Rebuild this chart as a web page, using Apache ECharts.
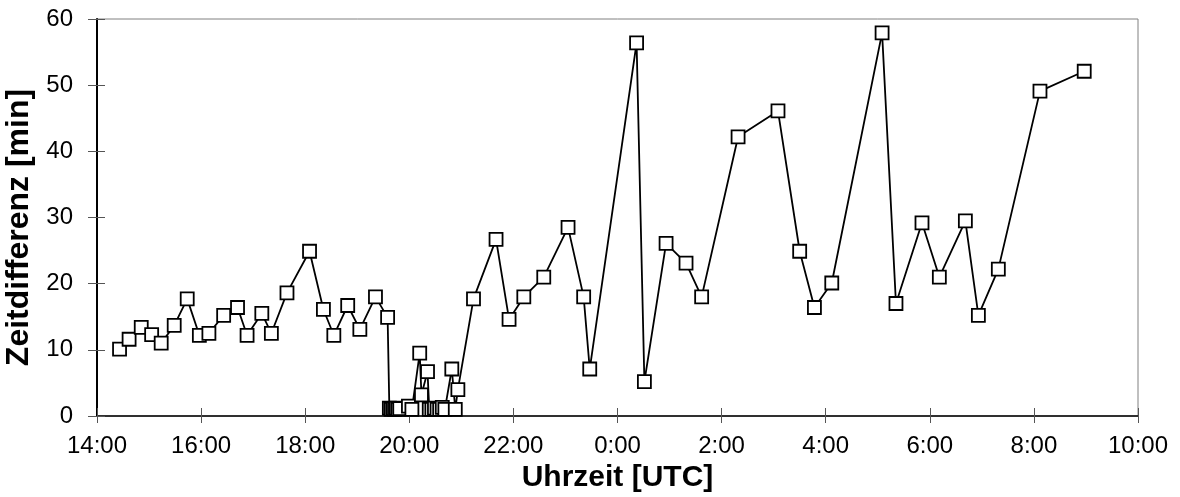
<!DOCTYPE html>
<html>
<head>
<meta charset="utf-8">
<script src="https://cdn.jsdelivr.net/npm/echarts@6/dist/echarts.min.js"></script>
<style>
html,body{margin:0;padding:0;background:#fff;}
#chart{width:1180px;height:497px;}
</style>
</head>
<body>
<div id="chart"></div>
<script>
// Observation times (UTC), night continues past midnight
const times = ["14:26","14:37","14:51","15:03","15:14","15:29","15:44","15:58","16:09","16:26",
  "16:42","16:53","17:10","17:21","17:39","18:05","18:21","18:33","18:49","19:03",
  "19:21","19:35","19:37","19:39","19:41","19:43","19:45","19:47","19:49","19:59",
  "20:03","20:12","20:14","20:21","20:23","20:26","20:29","20:32","20:35","20:38",
  "20:41","20:49","20:53","20:56","21:14","21:40","21:55","22:12","22:35","23:03",
  "23:21","23:28","0:22","0:31","0:56","1:19","1:37","2:19","3:05","3:30",
  "3:47","4:07","5:05","5:21","5:51","6:11","6:41","6:56","7:19","8:07","8:58"];
// Time difference in minutes
const diffs = [10.1,11.6,13.4,12.3,11.0,13.7,17.7,12.2,12.5,15.2,
  16.4,12.2,15.5,12.5,18.6,24.9,16.1,12.2,16.7,13.1,
  18.0,14.9,1.2,1.0,1.1,1.0,1.2,1.0,1.1,1.5,
  1.0,9.5,3.2,6.7,1.0,1.0,1.2,1.0,1.0,1.3,
  1.0,7.1,1.0,4.0,17.7,26.7,14.6,18.0,21.0,28.5,
  18.0,7.1,56.4,5.2,26.1,23.1,18.0,42.2,46.1,24.9,
  16.4,20.1,57.9,17.0,29.2,21.0,29.5,15.2,22.2,49.1,52.1];
const xTickHours = [14,16,18,20,22,24,26,28,30,32,34];
const yTicks = [0,10,20,30,40,50,60];

function toHours(t){
  const [h,m] = t.split(':').map(Number);
  let v = h + m/60;
  if (v < 12) v += 24;
  return v;
}
const data = times.map((t,i)=>[toHours(t), diffs[i]]);
const fmtX = v => (Math.round(v) % 24) + ':00';
const FONT = '"Liberation Sans", Arial, sans-serif';

const chart = echarts.init(document.getElementById('chart'), null, {renderer:'canvas'});
chart.setOption({
  animation:false,
  backgroundColor:'#fff',
  grid:{left:97,right:42,top:19,bottom:81,containLabel:false,outerBoundsMode:'none',
    show:true,borderColor:'#808080',borderWidth:1,backgroundColor:'transparent'},
  xAxis:[{
    type:'value',min:xTickHours[0],max:xTickHours[xTickHours.length-1],interval:2,
    axisLine:{show:true,onZero:false,lineStyle:{color:'#000',width:1.5}},
    axisTick:{show:true,inside:false,length:7,lineStyle:{color:'#555',width:1}},
    axisLabel:{formatter:fmtX,fontFamily:FONT,fontSize:24,color:'#000',margin:18},
    splitLine:{show:false},
    name:'Uhrzeit [UTC]',nameLocation:'middle',nameGap:43,
    nameTextStyle:{fontFamily:FONT,fontSize:30,fontWeight:'bold',color:'#000'}
  },{
    type:'value',min:14,max:34,interval:2,position:'bottom',
    axisLine:{show:false,onZero:false},
    axisTick:{show:true,inside:true,length:8,lineStyle:{color:'#555',width:1}},
    axisLabel:{show:false},splitLine:{show:false}
  }],
  yAxis:[{
    type:'value',min:yTicks[0],max:yTicks[yTicks.length-1],interval:10,
    axisLine:{show:true,onZero:false,lineStyle:{color:'#000',width:2}},
    axisTick:{show:true,inside:false,length:9,lineStyle:{color:'#555',width:1}},
    axisLabel:{fontFamily:FONT,fontSize:24,color:'#000',margin:24},
    splitLine:{show:false},
    name:'Zeitdifferenz [min]',nameLocation:'middle',nameGap:56,
    nameTextStyle:{fontFamily:FONT,fontSize:32,fontWeight:'bold',color:'#000',padding:[0,20,0,0]}
  },{
    type:'value',min:0,max:60,interval:10,position:'left',
    axisLine:{show:false,onZero:false},
    axisTick:{show:true,inside:true,length:8,lineStyle:{color:'#555',width:1}},
    axisLabel:{show:false},splitLine:{show:false}
  }],
  series:[{
    type:'line',data:data,xAxisIndex:0,yAxisIndex:0,
    symbol:'rect',symbolSize:13,showAllSymbol:true,
    lineStyle:{color:'#000',width:1.8},
    itemStyle:{color:'#fff',borderColor:'#000',borderWidth:1.8},
    emphasis:{disabled:true}
  }]
});
</script>
</body>
</html>
